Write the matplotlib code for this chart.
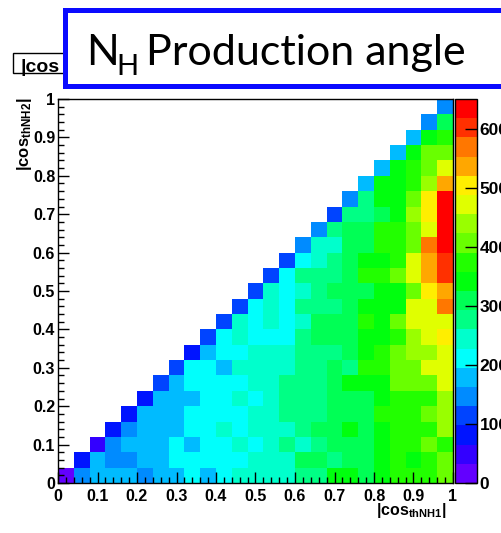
import colorsys
import numpy as np
import matplotlib
matplotlib.use("Agg")
import matplotlib.pyplot as plt
from matplotlib.colors import ListedColormap, BoundaryNorm
from matplotlib.patches import Rectangle
from matplotlib.ticker import MultipleLocator

W, H = 502, 533

# 25 x 25 bins on [0, 1], only bins with x >= y are filled
bin_edges = np.linspace(0, 1, 26)
z_max = 650
n_levels = 20

# bin contents, row j = |cos thNH2| bin, entries for x bins j..24
rows = [
    [18, 148, 176, 183, 175, 144, 181, 177, 214, 183, 209, 246, 241, 248, 239, 279, 274, 343, 338, 311, 347, 372, 379, 376, 404],
    [84, 178, 151, 144, 182, 176, 208, 213, 216, 205, 212, 241, 247, 238, 306, 312, 281, 308, 314, 339, 371, 345, 377, 409],
    [52, 143, 177, 184, 180, 210, 174, 214, 209, 245, 217, 243, 275, 249, 280, 305, 311, 316, 343, 369, 376, 403, 372],
    [79, 149, 181, 176, 185, 207, 215, 242, 211, 248, 239, 246, 278, 307, 313, 340, 306, 346, 368, 375, 379, 436],
    [83, 177, 180, 183, 212, 206, 218, 210, 244, 240, 276, 282, 273, 310, 304, 309, 373, 369, 378, 402, 441],
    [80, 175, 184, 178, 209, 213, 247, 216, 242, 277, 281, 271, 308, 313, 305, 344, 370, 376, 381, 437],
    [116, 182, 211, 207, 214, 218, 245, 250, 279, 274, 283, 311, 339, 345, 342, 405, 410, 399, 468],
    [112, 209, 215, 186, 243, 248, 239, 244, 276, 280, 307, 285, 371, 377, 407, 401, 473, 466],
    [85, 179, 212, 208, 246, 241, 249, 274, 279, 283, 310, 343, 374, 406, 438, 442, 470],
    [117, 213, 244, 210, 215, 207, 278, 312, 306, 309, 338, 346, 372, 434, 476, 502],
    [113, 242, 209, 247, 216, 245, 311, 305, 314, 376, 341, 408, 469, 474, 467],
    [110, 214, 241, 211, 277, 281, 275, 309, 344, 340, 347, 472, 478, 566],
    [115, 246, 212, 243, 280, 307, 312, 308, 342, 348, 404, 507, 539],
    [118, 208, 276, 282, 273, 310, 372, 377, 409, 471, 534, 598],
    [111, 215, 247, 279, 306, 344, 339, 373, 473, 538, 603],
    [147, 243, 249, 311, 305, 370, 378, 403, 571, 641],
    [144, 278, 309, 314, 374, 369, 407, 469, 647],
    [113, 275, 281, 307, 343, 437, 505, 638],
    [149, 279, 340, 346, 405, 503, 631],
    [177, 338, 344, 375, 440, 537],
    [181, 341, 371, 406, 470],
    [178, 345, 403, 409],
    [183, 339, 373],
    [145, 307],
    [147],
]

x_tick_labels = ["0", "0.1", "0.2", "0.3", "0.4", "0.5", "0.6", "0.7", "0.8", "0.9", "1"]
z_ticks = [0, 100, 200, 300, 400, 500, 600]

counts = np.zeros((25, 25))
for j, row in enumerate(rows):
    counts[j, j:] = row
counts = np.ma.masked_equal(counts, 0)

# ROOT "pretty" palette (violet -> red) sampled for 20 contours
palette = []
for k in range(n_levels):
    i = int((k + 0.99) * 50 / n_levels)
    hue = 280 - (i + 1) * 5.6 if i < 49 else 0.0
    palette.append(colorsys.hls_to_rgb(hue / 360.0, 0.5, 1.0))
cmap = ListedColormap(palette)
norm = BoundaryNorm(np.linspace(0, z_max, n_levels + 1), cmap.N)

plt.rcParams["mathtext.fontset"] = "custom"
plt.rcParams["mathtext.bf"] = "Liberation Sans:bold"
plt.rcParams["mathtext.rm"] = "Liberation Sans:bold"
lab = dict(family="Liberation Sans", weight="bold", size=11.5)


def fx(x):
    return x / W


def fy(y):
    return 1 - y / H


fig = plt.figure(figsize=(W / 100, H / 100), dpi=100)
fig.patch.set_facecolor("white")

ax = fig.add_axes([fx(58), fy(483), (453 - 58) / W, (483 - 99) / H])
mesh = ax.pcolormesh(bin_edges, bin_edges, counts, cmap=cmap, norm=norm)
ax.set_xlim(0, 1)
ax.set_ylim(0, 1)
ticks = np.linspace(0, 1, 11)
ax.set_xticks(ticks)
ax.set_yticks(ticks)
ax.set_xticklabels(x_tick_labels, **lab)
ax.set_yticklabels(x_tick_labels, **lab)
ax.xaxis.set_minor_locator(MultipleLocator(0.02))
ax.yaxis.set_minor_locator(MultipleLocator(0.02))
ax.tick_params(which="both", direction="in", top=False, right=False, width=1, color="black")
ax.tick_params(which="major", length=8)
ax.tick_params(which="minor", length=4.3)
ax.tick_params(axis="x", pad=4)
ax.tick_params(axis="y", pad=2)
for s in ax.spines.values():
    s.set_linewidth(1)

cax = fig.add_axes([fx(455), fy(483), 22 / W, (483 - 99) / H])
cb = fig.colorbar(mesh, cax=cax, ticks=z_ticks)
cb.outline.set_linewidth(1)
cax.tick_params(direction="in", length=8.5, width=1, color="black", pad=2)
cax.minorticks_off()
cax.set_yticklabels([str(t) for t in z_ticks], **{**lab, "size": 12.5})

fig.text(fx(25), fy(97), r"$\mathbf{|cos_{thNH2}|}$", rotation=90,
         ha="center", va="top", size=12)
fig.text(fx(447), fy(501), r"$\mathbf{|cos_{thNH1}|}$", ha="right", va="top", size=11.5)

# ROOT title box, mostly hidden behind the slide label
fig.patches.append(Rectangle((fx(13), fy(73)), (300 - 13) / W, (73 - 53) / H,
                             transform=fig.transFigure, facecolor="white",
                             edgecolor="black", linewidth=1, zorder=1))
fig.text(fx(21), fy(72), "|cos", ha="left", va="baseline",
         family="Liberation Sans", weight="bold", size=14, zorder=2)

fig.patches.append(Rectangle((fx(65), fy(86)), (560 - 65) / W, (86 - 10) / H,
                             transform=fig.transFigure, facecolor="white",
                             edgecolor="#0a0aff", linewidth=3.6, zorder=3))
title_font = dict(family="Lato", size=31, color="black", zorder=4)
fig.text(fx(86), fy(65), "N", ha="left", va="baseline", **title_font)
fig.text(fx(116), fy(75), "H", ha="left", va="baseline",
         **{**title_font, "size": 21})
fig.text(fx(146), fy(65), "Production angle", ha="left", va="baseline", **title_font)

fig.savefig("out.png", dpi=100)
